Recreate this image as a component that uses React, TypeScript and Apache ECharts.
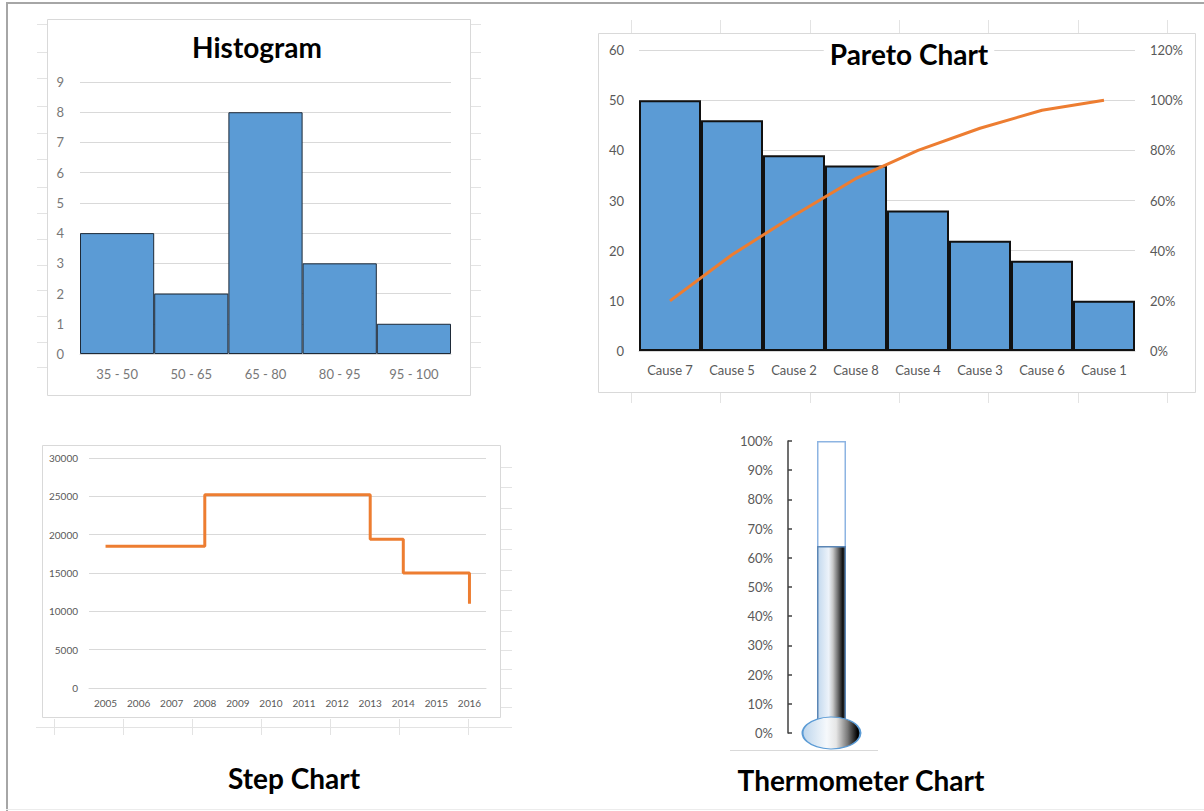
import React, { useEffect, useRef } from "react";
import * as echarts from "echarts";

// ---------- data ----------
const histCategories = ["35 - 50", "50 - 65", "65 - 80", "80 - 95", "95 - 100"];
const histValues = [4, 2, 8, 3, 1];

const paretoCategories = ["Cause 7", "Cause 5", "Cause 2", "Cause 8", "Cause 4", "Cause 3", "Cause 6", "Cause 1"];
const paretoCounts = [50, 46, 39, 37, 28, 22, 18, 10];
const paretoCumulative = [0.2, 0.384, 0.54, 0.688, 0.8, 0.888, 0.96, 1.0];

const stepYears = ["2005", "2006", "2007", "2008", "2009", "2010", "2011", "2012", "2013", "2014", "2015", "2016"];
const stepValues = [18500, 18500, 18500, 25200, 25200, 25200, 25200, 25200, 19400, 15000, 15000, 11000];

const thermoCategory = [""];
const thermoValue = [0.64];
const thermoFull = [1];

// ---------- styles ----------
const FONT = "Lato, 'Open Sans', sans-serif";
const LABEL = "#595959";
const LABEL_LIGHT = "#777777";
const GRIDC = "#d9d9d9";
const BLUE = "#5b9bd5";
const ORANGE = "#ed7d31";
const FAINT = "#e3e3e3";

function hLine(x1: number, x2: number, y: number, color = FAINT, w = 1) {
  return { type: "line", silent: true, shape: { x1, y1: y, x2, y2: y }, style: { stroke: color, lineWidth: w } };
}
function vLine(x: number, y1: number, y2: number, color = FAINT, w = 1) {
  return { type: "line", silent: true, shape: { x1: x, y1, x2: x, y2 }, style: { stroke: color, lineWidth: w } };
}
function panel(x: number, y: number, w: number, h: number) {
  return { type: "rect", silent: true, shape: { x, y, width: w, height: h }, style: { fill: "none", stroke: GRIDC, lineWidth: 1 } };
}
function title(text: string, x: number, y: number, masked = false) {
  const style: any = { text, fill: "#000", font: `bold 28px ${FONT}`, textAlign: "center", textVerticalAlign: "middle" };
  if (masked) {
    style.backgroundColor = "#ffffff";
    style.padding = [0, 6];
  }
  return { type: "text", silent: true, x, y, z: 100, style };
}

export default function App() {
  const ref = useRef<HTMLDivElement>(null);

  useEffect(() => {
    if (!ref.current) return;
    const chart = echarts.init(ref.current, undefined, { renderer: "svg" });

    const histRows = [24, 52, 78, 106, 133, 159, 187, 213, 239, 265, 290, 316, 342, 367];
    const paretoCols = [631, 720, 810, 899, 988, 1078, 1167];
    const stepRows = [467, 487, 508, 529, 549, 570, 590, 610, 631, 650, 669, 688, 707];
    const stepCols = [54, 123, 192, 261, 330, 399, 468];

    const graphics: any[] = [
      // outer frame
      vLine(7, 2, 811, "#a6a6a6", 2),
      hLine(6, 1204, 3, "#a6a6a6", 2),
      hLine(6, 1204, 809.5, "#ececec", 1),
      // panels
      panel(47.5, 19.5, 423, 376),
      panel(598.5, 33.5, 597, 359),
      panel(42.5, 445.5, 458, 272),
      // worksheet artifacts
      ...histRows.map((y) => hLine(37, 47, y + 0.5)),
      ...histRows.map((y) => hLine(471, 481, y + 0.5)),
      ...paretoCols.map((x) => vLine(x + 0.5, 20, 33)),
      ...paretoCols.map((x) => vLine(x + 0.5, 393, 403)),
      ...stepRows.map((y) => hLine(501, 512, y + 0.5)),
      hLine(36, 512, 727.5),
      ...stepCols.map((x) => vLine(x + 0.5, 719, 735)),
      hLine(730, 878, 750.5, "#d9d9d9", 1),
      // titles
      title("Histogram", 257, 47),
      title("Pareto Chart", 909, 54, true),
      title("Step Chart", 294, 778),
      title("Thermometer Chart", 861, 780),
    ];

    const catAxisBase = {
      type: "category",
      axisTick: { show: false },
      axisLine: { show: true, lineStyle: { color: GRIDC, width: 1 } },
      axisLabel: { color: LABEL, fontFamily: FONT, fontSize: 13 },
      boundaryGap: true,
    };
    const valAxisBase = {
      type: "value",
      axisLine: { show: false },
      axisTick: { show: false },
      splitLine: { show: true, lineStyle: { color: GRIDC, width: 1 } },
      axisLabel: { color: LABEL, fontFamily: FONT, fontSize: 13 },
    };

    const tubeGradient = new echarts.graphic.LinearGradient(0, 0, 1, 0, [
      { offset: 0, color: "#c3d9ee" },
      { offset: 0.4, color: "#edf3fa" },
      { offset: 0.55, color: "#c8c8c8" },
      { offset: 0.74, color: "#6a6a6a" },
      { offset: 0.9, color: "#151515" },
      { offset: 1, color: "#2a2a2a" },
    ]);
    const bulbGradient = new echarts.graphic.LinearGradient(0, 0, 1, 0, [
      { offset: 0, color: "#bcd5ec" },
      { offset: 0.42, color: "#f6f9fc" },
      { offset: 0.58, color: "#e6e6e6" },
      { offset: 0.78, color: "#777777" },
      { offset: 0.95, color: "#000000" },
      { offset: 1, color: "#111111" },
    ]);

    chart.setOption({
      animation: false,
      backgroundColor: "#ffffff",
      grid: [
        { left: 80, top: 82, width: 371, height: 272 },
        { left: 639, top: 50, width: 496, height: 301 },
        { left: 89, top: 458, width: 397, height: 230 },
        { left: 788, top: 441, width: 87, height: 292 },
      ],
      xAxis: [
        {
          ...catAxisBase,
          gridIndex: 0,
          data: histCategories,
          axisLabel: { ...catAxisBase.axisLabel, color: LABEL_LIGHT, margin: 13 },
        },
        { ...catAxisBase, gridIndex: 1, data: paretoCategories, axisLabel: { ...catAxisBase.axisLabel, margin: 12 } },
        {
          ...catAxisBase,
          gridIndex: 2,
          data: stepYears,
          axisLabel: { ...catAxisBase.axisLabel, color: LABEL, fontSize: 10, margin: 10 },
        },
        { type: "category", gridIndex: 3, data: thermoCategory, show: false },
      ],
      yAxis: [
        {
          ...valAxisBase,
          gridIndex: 0,
          min: 0,
          max: 9,
          interval: 1,
          axisLabel: { ...valAxisBase.axisLabel, color: LABEL_LIGHT, margin: 16 },
        },
        { ...valAxisBase, gridIndex: 1, min: 0, max: 60, interval: 10, axisLabel: { ...valAxisBase.axisLabel, margin: 15 } },
        {
          ...valAxisBase,
          gridIndex: 1,
          position: "right",
          min: 0,
          max: 1.2,
          interval: 0.2,
          splitLine: { show: false },
          axisLabel: { ...valAxisBase.axisLabel, margin: 15, formatter: (v: number) => `${Math.round(v * 100)}%` },
        },
        {
          ...valAxisBase,
          gridIndex: 2,
          min: 0,
          max: 30000,
          interval: 5000,
          axisLabel: { ...valAxisBase.axisLabel, fontSize: 10, margin: 11, formatter: (v: number) => String(v) },
        },
        {
          type: "value",
          gridIndex: 3,
          min: 0,
          max: 1,
          interval: 0.1,
          axisLine: { show: true, lineStyle: { color: "#404040", width: 1.5 } },
          axisTick: { show: true, inside: true, length: 4, lineStyle: { color: "#404040", width: 1.5 } },
          splitLine: { show: false },
          axisLabel: {
            color: LABEL,
            fontFamily: FONT,
            fontSize: 13,
            margin: 15,
            formatter: (v: number) => `${Math.round(v * 100)}%`,
          },
        },
      ],
      series: [
        {
          type: "bar",
          xAxisIndex: 0,
          yAxisIndex: 0,
          data: histValues,
          barWidth: "100%",
          itemStyle: { color: BLUE, borderColor: "#1e2a38", borderWidth: 1 },
        },
        {
          type: "bar",
          xAxisIndex: 1,
          yAxisIndex: 1,
          data: paretoCounts,
          barWidth: "100%",
          itemStyle: { color: BLUE, borderColor: "#111111", borderWidth: 2 },
        },
        {
          type: "line",
          xAxisIndex: 1,
          yAxisIndex: 2,
          data: paretoCumulative,
          showSymbol: false,
          symbol: "none",
          lineStyle: { color: ORANGE, width: 3 },
          z: 5,
        },
        {
          type: "line",
          xAxisIndex: 2,
          yAxisIndex: 3,
          data: stepValues,
          step: "end",
          showSymbol: false,
          symbol: "none",
          lineStyle: { color: ORANGE, width: 3 },
        },
        {
          type: "bar",
          xAxisIndex: 3,
          yAxisIndex: 4,
          data: thermoFull,
          barWidth: 29,
          itemStyle: { color: "#ffffff", borderColor: "#8db4e2", borderWidth: 1.5 },
          z: 2,
        },
        {
          type: "bar",
          xAxisIndex: 3,
          yAxisIndex: 4,
          data: thermoValue,
          barWidth: 29,
          barGap: "-100%",
          itemStyle: { color: tubeGradient, borderColor: "#5b86b5", borderWidth: 1.5 },
          z: 3,
        },
        {
          type: "scatter",
          xAxisIndex: 3,
          yAxisIndex: 4,
          data: [[0, 0]],
          symbol: "circle",
          symbolSize: [58, 32],
          itemStyle: { color: bulbGradient, borderColor: "#5b9bd5", borderWidth: 1.5, opacity: 1 },
          z: 4,
        },
      ],
      graphic: graphics,
    });

    return () => chart.dispose();
  }, []);

  return (
    <div
      ref={ref}
      style={{ position: "absolute", left: 0, top: 0, width: 1204, height: 811, background: "#fff" }}
    />
  );
}
